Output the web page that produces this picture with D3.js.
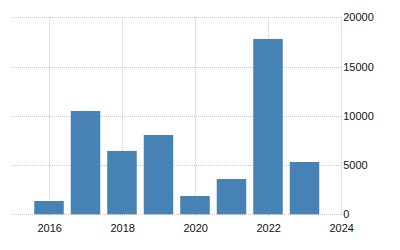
<!DOCTYPE html>
<html>
<head>
<meta charset="utf-8">
<script src="https://cdn.jsdelivr.net/npm/d3@7"></script>
<style>
  body { margin: 0; background: #fff; }
  svg text { font-family: "Liberation Sans", Arial, sans-serif; font-size: 11px; fill: #111; }
</style>
</head>
<body>
<div id="chart"></div>
<script>
// values
var years = [2016, 2017, 2018, 2019, 2020, 2021, 2022, 2023];
var values = [1350, 10490, 6430, 8050, 1860, 3580, 17800, 5310];
var yTicks = [0, 5000, 10000, 15000, 20000];
var xTicks = [2016, 2018, 2020, 2022, 2024];

var width = 400, height = 250;
var plotLeft = 12, plotRight = 341.7, plotTop = 17.3, plotBottom = 214.3;

var svg = d3.select("#chart").append("svg")
  .attr("width", width)
  .attr("height", height);

var x = d3.scaleLinear().domain([2016, 2024]).range([49.7, plotRight]);
var y = d3.scaleLinear().domain([0, 20000]).range([plotBottom, plotTop]);
var barW = 29.5;

// horizontal grid
svg.append("g").selectAll("line").data(yTicks).enter().append("line")
  .attr("x1", plotLeft).attr("x2", plotRight)
  .attr("y1", function(d){ return Math.round(y(d)) + 0.5; })
  .attr("y2", function(d){ return Math.round(y(d)) + 0.5; })
  .attr("stroke", "#c8c8c8")
  .attr("stroke-dasharray", "1,1");

// vertical grid, running a little below the baseline as ticks
svg.append("g").selectAll("line").data(xTicks).enter().append("line")
  .attr("x1", function(d){ return Math.round(x(d)) - 0.5; })
  .attr("x2", function(d){ return Math.round(x(d)) - 0.5; })
  .attr("y1", plotTop).attr("y2", plotBottom + 3)
  .attr("stroke", "#c8c8c8")
  .attr("stroke-dasharray", "1,1");

// bars
svg.append("g").selectAll("rect").data(years).enter().append("rect")
  .attr("x", function(d){ return x(d) - barW / 2 - 0.7; })
  .attr("width", barW)
  .attr("y", function(d, i){ return y(values[i]); })
  .attr("height", function(d, i){ return y(0) - y(values[i]); })
  .attr("fill", "#4682b4");

// y labels on the right
svg.append("g").selectAll("text").data(yTicks).enter().append("text")
  .attr("x", plotRight + 1.5)
  .attr("y", function(d){ return y(d); })
  .attr("dy", "0.36em")
  .text(function(d){ return d; });

// x labels
svg.append("g").selectAll("text").data(xTicks).enter().append("text")
  .attr("x", function(d){ return x(d); })
  .attr("y", 228)
  .attr("dy", "0.36em")
  .attr("text-anchor", "middle")
  .text(function(d){ return d; });
</script>
</body>
</html>
